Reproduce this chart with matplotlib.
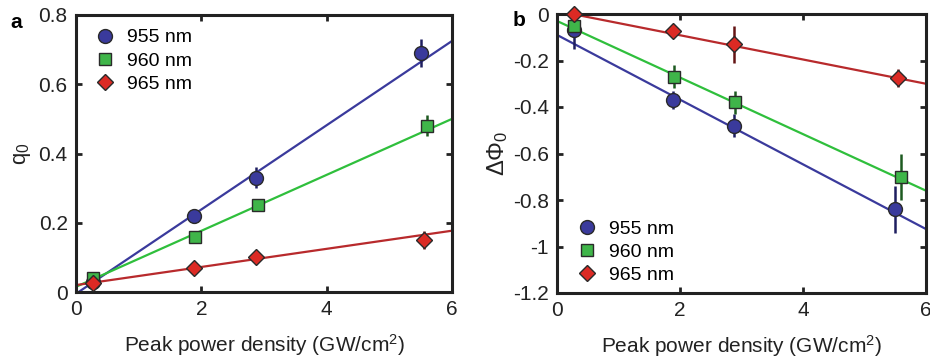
import matplotlib
matplotlib.use("Agg")
import matplotlib.pyplot as plt
import numpy as np

plt.rcParams['font.family'] = ['Liberation Sans', 'DejaVu Sans']
plt.rcParams['axes.unicode_minus'] = False
plt.rcParams['mathtext.fontset'] = 'custom'
plt.rcParams['mathtext.rm'] = 'Liberation Sans'
plt.rcParams['mathtext.it'] = 'Liberation Sans'

labels = ['955 nm', '960 nm', '965 nm']

# Panel a: q0
a_x = [[0.27, 1.88, 2.88, 5.5], [0.27, 1.9, 2.9, 5.6], [0.27, 1.88, 2.88, 5.55]]
a_y = [[0.03, 0.22, 0.33, 0.69], [0.04, 0.16, 0.25, 0.48], [0.025, 0.07, 0.10, 0.15]]
a_err = [[0.01, 0.01, 0.03, 0.04], [0.01, 0.015, 0.015, 0.03], [0.01, 0.015, 0.02, 0.025]]
a_fit = [[-0.005, 0.725], [0.015, 0.50], [0.02, 0.177]]  # values at x=0 and x=6

# Panel b: Delta Phi0
b_x = [[0.27, 1.88, 2.88, 5.5], [0.27, 1.9, 2.9, 5.6], [0.27, 1.88, 2.88, 5.55]]
b_y = [[-0.07, -0.37, -0.48, -0.84], [-0.05, -0.27, -0.38, -0.70], [0.0, -0.075, -0.13, -0.275]]
b_err = [[0.08, 0.04, 0.05, 0.10], [0.03, 0.05, 0.05, 0.10], [0.02, 0.03, 0.08, 0.04]]
b_fit = [[-0.09, -0.925], [-0.03, -0.76], [0.013, -0.30]]

fit_x = [0, 6]

marker_face = ['#3a3a9c', '#3fb549', '#dc2a24']
line_col = ['#3a3a9c', '#2fbf3c', '#b82a2c']
err_col = ['#1e1e60', '#1d5a20', '#641414']
edge_col = '#2a2a2a'
markers = ['o', 's', 'D']
msizes = [10, 8.5, 8.5]

fig = plt.figure(figsize=(9.3, 3.58), dpi=100)
axa = fig.add_axes([76/930, 1-292/358, 376/930, 277/358])
axb = fig.add_axes([557/930, 1-293/358, 369/930, 279/358])

def draw(ax, xs, ys, errs, fits):
    for i in range(3):
        ax.plot(fit_x, fits[i], color=line_col[i], lw=1.6, zorder=2)
    for i in range(3):
        ax.errorbar(xs[i], ys[i], yerr=errs[i], fmt='none', ecolor=err_col[i], elinewidth=1.8, capsize=0, zorder=3)
        ax.plot(xs[i], ys[i], linestyle='none', marker=markers[i], ms=msizes[i],
                mfc=marker_face[i], mec=edge_col, mew=1.0, zorder=4, label=labels[i], clip_on=False)
    for s in ax.spines.values():
        s.set_linewidth(2.2)
        s.set_color('#222222')
    ax.tick_params(direction='in', top=True, right=True, length=4, width=2,
                   labelsize=15, colors='#222222', pad=6)
    ax.set_xlim(0, 6)
    ax.set_xticks([0, 2, 4, 6])
    ax.set_xticklabels(['0', '2', '4', '6'])
    ax.set_xlabel('Peak power density (GW/cm$^2$)', fontsize=15, color='#222222', labelpad=9)

leg_kw = dict(frameon=False, fontsize=14, handlelength=1.0, handletextpad=0.6,
              borderaxespad=0, borderpad=0, labelspacing=0.28, loc='upper left')

draw(axa, a_x, a_y, a_err, a_fit)
axa.set_ylim(0, 0.8)
axa.set_yticks([0, 0.2, 0.4, 0.6, 0.8])
axa.set_yticklabels(['0', '0.2', '0.4', '0.6', '0.8'])
axa.set_ylabel('q$_0$', fontsize=16, color='#222222', labelpad=4)
axa.legend(bbox_to_anchor=(0.052, 0.95), **leg_kw)

draw(axb, b_x, b_y, b_err, b_fit)
axb.set_ylim(-1.2, 0)
axb.set_yticks([0, -0.2, -0.4, -0.6, -0.8, -1.0, -1.2])
axb.set_yticklabels(['0', '-0.2', '-0.4', '-0.6', '-0.8', '-1', '-1.2'])
axb.set_ylabel('$\\Delta\\Phi_0$', fontsize=17, color='#222222', labelpad=2)
axb.legend(bbox_to_anchor=(0.056, 0.262), **leg_kw)

fig.text(10/930, 1-22/358, 'a', fontsize=15, fontweight='bold', va='center', ha='left')
fig.text(513/930, 1-20/358, 'b', fontsize=15, fontweight='bold', va='center', ha='left')

fig.savefig('out.png', dpi=100)
